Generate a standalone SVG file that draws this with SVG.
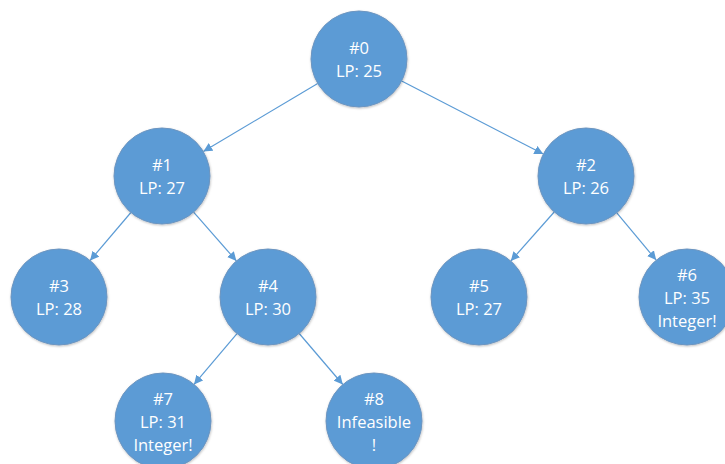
<svg xmlns="http://www.w3.org/2000/svg" width="725" height="464" viewBox="0 0 725 464">
  <style>
    .node circle { fill: #5b9bd5; stroke: #6d95c0; stroke-width: 1; filter: url(#shadow); }
    .node text { fill: #ffffff; font-family: "Open Sans", "Liberation Sans", Arial, sans-serif; font-size: 16.5px; text-anchor: middle; dominant-baseline: central; }
    .edge { stroke: #5b9bd5; stroke-width: 1.2; fill: none; marker-end: url(#arrow); }
  </style>
  <defs>
    <marker id="arrow" viewBox="0 0 10 10" refX="10" refY="5" markerWidth="9" markerHeight="9" markerUnits="userSpaceOnUse" orient="auto">
      <path d="M0,0 L10,5 L0,10 Z" fill="#5b9bd5"/>
    </marker>
    <filter id="shadow" x="-20%" y="-20%" width="140%" height="140%">
      <feDropShadow dx="0.5" dy="1" stdDeviation="1" flood-color="#000000" flood-opacity="0.25"/>
    </filter>
  </defs>
  <rect width="725" height="464" fill="#ffffff"/>

  <!-- branch connectors -->
  <g id="connectors">
    <line class="edge" x1="317.7" y1="83.5" x2="203.3" y2="151.5"/>
    <line class="edge" x1="401.7" y1="81.0" x2="543.3" y2="154.0"/>
    <line class="edge" x1="130.9" y1="212.5" x2="90.1" y2="260.5"/>
    <line class="edge" x1="193.6" y1="212.1" x2="236.4" y2="260.9"/>
    <line class="edge" x1="554.2" y1="212.0" x2="510.8" y2="261.0"/>
    <line class="edge" x1="616.8" y1="212.9" x2="656.2" y2="260.1"/>
    <line class="edge" x1="237.0" y1="333.6" x2="194.0" y2="384.4"/>
    <line class="edge" x1="299.2" y1="333.5" x2="342.8" y2="384.5"/>
  </g>

  <g id="node0" class="node">
    <circle cx="359" cy="59" r="48"/>
    <text x="359" y="47.5">#0</text>
    <text x="359" y="70.5">LP: 25</text>
  </g>
  <g id="node1" class="node">
    <circle cx="162" cy="176" r="48"/>
    <text x="162" y="164.5">#1</text>
    <text x="162" y="187.5">LP: 27</text>
  </g>
  <g id="node2" class="node">
    <circle cx="586" cy="176" r="48"/>
    <text x="586" y="164.5">#2</text>
    <text x="586" y="187.5">LP: 26</text>
  </g>
  <g id="node3" class="node">
    <circle cx="59" cy="297" r="48"/>
    <text x="59" y="285.5">#3</text>
    <text x="59" y="308.5">LP: 28</text>
  </g>
  <g id="node4" class="node">
    <circle cx="268" cy="297" r="48"/>
    <text x="268" y="285.5">#4</text>
    <text x="268" y="308.5">LP: 30</text>
  </g>
  <g id="node5" class="node">
    <circle cx="479" cy="297" r="48"/>
    <text x="479" y="285.5">#5</text>
    <text x="479" y="308.5">LP: 27</text>
  </g>
  <g id="node6" class="node">
    <circle cx="687" cy="297" r="48"/>
    <text x="687" y="274">#6</text>
    <text x="687" y="297">LP: 35</text>
    <text x="687" y="320">Integer!</text>
  </g>
  <g id="node7" class="node">
    <circle cx="163" cy="421" r="48"/>
    <text x="163" y="398">#7</text>
    <text x="163" y="421">LP: 31</text>
    <text x="163" y="444">Integer!</text>
  </g>
  <g id="node8" class="node">
    <circle cx="374" cy="421" r="48"/>
    <text x="374" y="398">#8</text>
    <text x="374" y="421">Infeasible</text>
    <text x="374" y="444">!</text>
  </g>
</svg>
